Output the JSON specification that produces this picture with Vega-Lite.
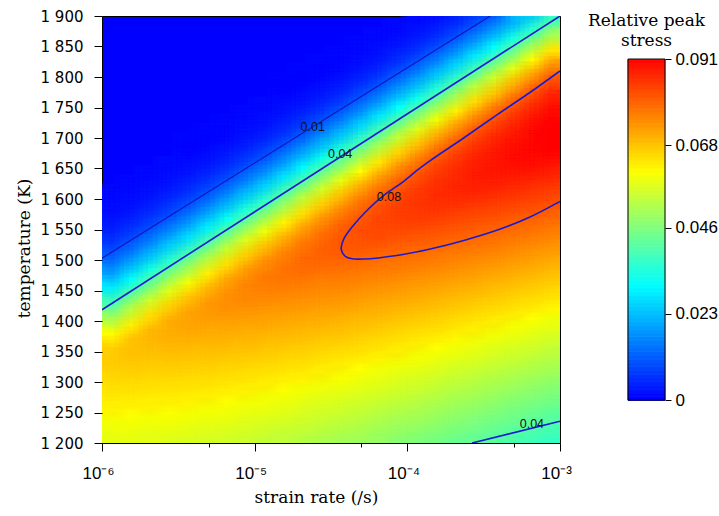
{
"$schema": "https://vega.github.io/schema/vega-lite/v6.json",
"background": "white",
"padding": {"left": 14, "top": 8, "right": 2, "bottom": 2},
"spacing": 15,
"config": {"view": {"stroke": "black", "strokeWidth": 1}, "axis": {"grid": false, "domain": false, "tickColor": "black", "labelColor": "black", "titleColor": "black", "tickWidth": 1}},
"datasets": {
"field": [
{"u":-6,"t":1317,"v":0.0663},{"u":-6,"t":1292,"v":0.0647},{"u":-6,"t":1267,"v":0.0631},{"u":-6,"t":1242,"v":0.0615},{"u":-6,"t":1217,"v":0.0598},{"u":-6,"t":1192,"v":0.0582},
{"u":-6,"t":1342,"v":0.0662},{"u":-6,"t":1367,"v":0.0604},{"u":-6,"t":1392,"v":0.0507},{"u":-6,"t":1417,"v":0.0394},{"u":-6,"t":1442,"v":0.0284},{"u":-6,"t":1467,"v":0.019},{"u":-6,"t":1492,"v":0.0118},{"u":-6,"t":1517,"v":0.0068},{"u":-6,"t":1542,"v":0.0037},{"u":-6,"t":1567,"v":0.0019},{"u":-6,"t":1592,"v":0.0009},
{"u":-5.875,"t":1332,"v":0.0675},{"u":-5.875,"t":1307,"v":0.0658},{"u":-5.875,"t":1282,"v":0.0641},{"u":-5.875,"t":1257,"v":0.0624},{"u":-5.875,"t":1232,"v":0.0607},{"u":-5.875,"t":1207,"v":0.059},{"u":-5.875,"t":1182,"v":0.0573},
{"u":-5.875,"t":1357,"v":0.0676},{"u":-5.875,"t":1382,"v":0.0623},{"u":-5.875,"t":1407,"v":0.0531},{"u":-5.875,"t":1432,"v":0.0419},{"u":-5.875,"t":1457,"v":0.0307},{"u":-5.875,"t":1482,"v":0.0208},{"u":-5.875,"t":1507,"v":0.0131},{"u":-5.875,"t":1532,"v":0.0077},{"u":-5.875,"t":1557,"v":0.0042},{"u":-5.875,"t":1582,"v":0.0021},{"u":-5.875,"t":1607,"v":0.001},
{"u":-5.75,"t":1347,"v":0.0685},{"u":-5.75,"t":1322,"v":0.0668},{"u":-5.75,"t":1297,"v":0.065},{"u":-5.75,"t":1272,"v":0.0632},{"u":-5.75,"t":1247,"v":0.0615},{"u":-5.75,"t":1222,"v":0.0597},{"u":-5.75,"t":1197,"v":0.058},
{"u":-5.75,"t":1372,"v":0.0688},{"u":-5.75,"t":1397,"v":0.0641},{"u":-5.75,"t":1422,"v":0.0554},{"u":-5.75,"t":1447,"v":0.0445},{"u":-5.75,"t":1472,"v":0.0331},{"u":-5.75,"t":1497,"v":0.0228},{"u":-5.75,"t":1522,"v":0.0146},{"u":-5.75,"t":1547,"v":0.0086},{"u":-5.75,"t":1572,"v":0.0047},{"u":-5.75,"t":1597,"v":0.0024},{"u":-5.75,"t":1622,"v":0.0011},
{"u":-5.625,"t":1362,"v":0.0697},{"u":-5.625,"t":1337,"v":0.0679},{"u":-5.625,"t":1312,"v":0.066},{"u":-5.625,"t":1287,"v":0.0642},{"u":-5.625,"t":1262,"v":0.0624},{"u":-5.625,"t":1237,"v":0.0605},{"u":-5.625,"t":1212,"v":0.0587},{"u":-5.625,"t":1187,"v":0.0569},
{"u":-5.625,"t":1387,"v":0.0701},{"u":-5.625,"t":1412,"v":0.0659},{"u":-5.625,"t":1437,"v":0.0577},{"u":-5.625,"t":1462,"v":0.047},{"u":-5.625,"t":1487,"v":0.0355},{"u":-5.625,"t":1512,"v":0.0248},{"u":-5.625,"t":1537,"v":0.0161},{"u":-5.625,"t":1562,"v":0.0096},{"u":-5.625,"t":1587,"v":0.0053},{"u":-5.625,"t":1612,"v":0.0027},{"u":-5.625,"t":1637,"v":0.0013},
{"u":-5.5,"t":1376,"v":0.0708},{"u":-5.5,"t":1351,"v":0.0689},{"u":-5.5,"t":1326,"v":0.067},{"u":-5.5,"t":1301,"v":0.0651},{"u":-5.5,"t":1276,"v":0.0632},{"u":-5.5,"t":1251,"v":0.0613},{"u":-5.5,"t":1226,"v":0.0594},{"u":-5.5,"t":1201,"v":0.0575},{"u":-5.5,"t":1176,"v":0.0556},
{"u":-5.5,"t":1401,"v":0.0713},{"u":-5.5,"t":1426,"v":0.0675},{"u":-5.5,"t":1451,"v":0.0599},{"u":-5.5,"t":1476,"v":0.0495},{"u":-5.5,"t":1501,"v":0.038},{"u":-5.5,"t":1526,"v":0.027},{"u":-5.5,"t":1551,"v":0.0177},{"u":-5.5,"t":1576,"v":0.0107},{"u":-5.5,"t":1601,"v":0.006},{"u":-5.5,"t":1626,"v":0.0031},{"u":-5.5,"t":1651,"v":0.0015},{"u":-5.5,"t":1676,"v":0.0006},
{"u":-5.375,"t":1391,"v":0.0718},{"u":-5.375,"t":1366,"v":0.0699},{"u":-5.375,"t":1341,"v":0.0679},{"u":-5.375,"t":1316,"v":0.0659},{"u":-5.375,"t":1291,"v":0.064},{"u":-5.375,"t":1266,"v":0.062},{"u":-5.375,"t":1241,"v":0.06},{"u":-5.375,"t":1216,"v":0.058},{"u":-5.375,"t":1191,"v":0.0561},
{"u":-5.375,"t":1416,"v":0.0725},{"u":-5.375,"t":1441,"v":0.0691},{"u":-5.375,"t":1466,"v":0.062},{"u":-5.375,"t":1491,"v":0.052},{"u":-5.375,"t":1516,"v":0.0405},{"u":-5.375,"t":1541,"v":0.0293},{"u":-5.375,"t":1566,"v":0.0195},{"u":-5.375,"t":1591,"v":0.012},{"u":-5.375,"t":1616,"v":0.0068},{"u":-5.375,"t":1641,"v":0.0035},{"u":-5.375,"t":1666,"v":0.0017},{"u":-5.375,"t":1691,"v":0.0007},
{"u":-5.25,"t":1406,"v":0.073},{"u":-5.25,"t":1381,"v":0.0709},{"u":-5.25,"t":1356,"v":0.0689},{"u":-5.25,"t":1331,"v":0.0669},{"u":-5.25,"t":1306,"v":0.0648},{"u":-5.25,"t":1281,"v":0.0628},{"u":-5.25,"t":1256,"v":0.0608},{"u":-5.25,"t":1231,"v":0.0588},{"u":-5.25,"t":1206,"v":0.0567},{"u":-5.25,"t":1181,"v":0.0547},
{"u":-5.25,"t":1431,"v":0.0737},{"u":-5.25,"t":1456,"v":0.0707},{"u":-5.25,"t":1481,"v":0.0641},{"u":-5.25,"t":1506,"v":0.0545},{"u":-5.25,"t":1531,"v":0.0431},{"u":-5.25,"t":1556,"v":0.0316},{"u":-5.25,"t":1581,"v":0.0214},{"u":-5.25,"t":1606,"v":0.0133},{"u":-5.25,"t":1631,"v":0.0076},{"u":-5.25,"t":1656,"v":0.004},{"u":-5.25,"t":1681,"v":0.0019},{"u":-5.25,"t":1706,"v":0.0008},
{"u":-5.125,"t":1421,"v":0.0741},{"u":-5.125,"t":1396,"v":0.072},{"u":-5.125,"t":1371,"v":0.0699},{"u":-5.125,"t":1346,"v":0.0678},{"u":-5.125,"t":1321,"v":0.0657},{"u":-5.125,"t":1296,"v":0.0636},{"u":-5.125,"t":1271,"v":0.0615},{"u":-5.125,"t":1246,"v":0.0594},{"u":-5.125,"t":1221,"v":0.0573},{"u":-5.125,"t":1196,"v":0.0552},
{"u":-5.125,"t":1446,"v":0.0749},{"u":-5.125,"t":1471,"v":0.0722},{"u":-5.125,"t":1496,"v":0.0661},{"u":-5.125,"t":1521,"v":0.0569},{"u":-5.125,"t":1546,"v":0.0457},{"u":-5.125,"t":1571,"v":0.034},{"u":-5.125,"t":1596,"v":0.0234},{"u":-5.125,"t":1621,"v":0.0147},{"u":-5.125,"t":1646,"v":0.0085},{"u":-5.125,"t":1671,"v":0.0045},{"u":-5.125,"t":1696,"v":0.0022},{"u":-5.125,"t":1721,"v":0.0009},
{"u":-5,"t":1435,"v":0.075},{"u":-5,"t":1410,"v":0.0729},{"u":-5,"t":1385,"v":0.0707},{"u":-5,"t":1360,"v":0.0686},{"u":-5,"t":1335,"v":0.0664},{"u":-5,"t":1310,"v":0.0643},{"u":-5,"t":1285,"v":0.0621},{"u":-5,"t":1260,"v":0.0599},{"u":-5,"t":1235,"v":0.0578},{"u":-5,"t":1210,"v":0.0556},{"u":-5,"t":1185,"v":0.0535},
{"u":-5,"t":1460,"v":0.0759},{"u":-5,"t":1485,"v":0.0736},{"u":-5,"t":1510,"v":0.068},{"u":-5,"t":1535,"v":0.0592},{"u":-5,"t":1560,"v":0.0482},{"u":-5,"t":1585,"v":0.0364},{"u":-5,"t":1610,"v":0.0254},{"u":-5,"t":1635,"v":0.0163},{"u":-5,"t":1660,"v":0.0096},{"u":-5,"t":1685,"v":0.0051},{"u":-5,"t":1710,"v":0.0025},{"u":-5,"t":1735,"v":0.0011},
{"u":-4.875,"t":1450,"v":0.0761},{"u":-4.875,"t":1425,"v":0.0739},{"u":-4.875,"t":1400,"v":0.0717},{"u":-4.875,"t":1375,"v":0.0694},{"u":-4.875,"t":1350,"v":0.0672},{"u":-4.875,"t":1325,"v":0.065},{"u":-4.875,"t":1300,"v":0.0628},{"u":-4.875,"t":1275,"v":0.0606},{"u":-4.875,"t":1250,"v":0.0584},{"u":-4.875,"t":1225,"v":0.0562},{"u":-4.875,"t":1200,"v":0.0539},
{"u":-4.875,"t":1475,"v":0.077},{"u":-4.875,"t":1500,"v":0.075},{"u":-4.875,"t":1525,"v":0.0699},{"u":-4.875,"t":1550,"v":0.0615},{"u":-4.875,"t":1575,"v":0.0508},{"u":-4.875,"t":1600,"v":0.039},{"u":-4.875,"t":1625,"v":0.0276},{"u":-4.875,"t":1650,"v":0.018},{"u":-4.875,"t":1675,"v":0.0107},{"u":-4.875,"t":1700,"v":0.0058},{"u":-4.875,"t":1725,"v":0.0028},{"u":-4.875,"t":1750,"v":0.0013},{"u":-4.875,"t":1775,"v":0.0005},
{"u":-4.75,"t":1465,"v":0.0772},{"u":-4.75,"t":1440,"v":0.0749},{"u":-4.75,"t":1415,"v":0.0726},{"u":-4.75,"t":1390,"v":0.0704},{"u":-4.75,"t":1365,"v":0.0681},{"u":-4.75,"t":1340,"v":0.0658},{"u":-4.75,"t":1315,"v":0.0635},{"u":-4.75,"t":1290,"v":0.0613},{"u":-4.75,"t":1265,"v":0.059},{"u":-4.75,"t":1240,"v":0.0567},{"u":-4.75,"t":1215,"v":0.0544},{"u":-4.75,"t":1190,"v":0.0522},
{"u":-4.75,"t":1490,"v":0.0782},{"u":-4.75,"t":1515,"v":0.0764},{"u":-4.75,"t":1540,"v":0.0717},{"u":-4.75,"t":1565,"v":0.0638},{"u":-4.75,"t":1590,"v":0.0533},{"u":-4.75,"t":1615,"v":0.0415},{"u":-4.75,"t":1640,"v":0.0299},{"u":-4.75,"t":1665,"v":0.0198},{"u":-4.75,"t":1690,"v":0.0119},{"u":-4.75,"t":1715,"v":0.0065},{"u":-4.75,"t":1740,"v":0.0032},{"u":-4.75,"t":1765,"v":0.0014},{"u":-4.75,"t":1790,"v":0.0006},
{"u":-4.625,"t":1480,"v":0.0781},{"u":-4.625,"t":1455,"v":0.0758},{"u":-4.625,"t":1430,"v":0.0735},{"u":-4.625,"t":1405,"v":0.0712},{"u":-4.625,"t":1380,"v":0.0688},{"u":-4.625,"t":1355,"v":0.0665},{"u":-4.625,"t":1330,"v":0.0642},{"u":-4.625,"t":1305,"v":0.0619},{"u":-4.625,"t":1280,"v":0.0595},{"u":-4.625,"t":1255,"v":0.0572},{"u":-4.625,"t":1230,"v":0.0549},{"u":-4.625,"t":1205,"v":0.0526},{"u":-4.625,"t":1180,"v":0.0502},
{"u":-4.625,"t":1505,"v":0.0792},{"u":-4.625,"t":1530,"v":0.0776},{"u":-4.625,"t":1555,"v":0.0733},{"u":-4.625,"t":1580,"v":0.0659},{"u":-4.625,"t":1605,"v":0.0558},{"u":-4.625,"t":1630,"v":0.0441},{"u":-4.625,"t":1655,"v":0.0322},{"u":-4.625,"t":1680,"v":0.0217},{"u":-4.625,"t":1705,"v":0.0133},{"u":-4.625,"t":1730,"v":0.0074},{"u":-4.625,"t":1755,"v":0.0037},{"u":-4.625,"t":1780,"v":0.0017},{"u":-4.625,"t":1805,"v":0.0007},
{"u":-4.5,"t":1494,"v":0.0792},{"u":-4.5,"t":1469,"v":0.0768},{"u":-4.5,"t":1444,"v":0.0745},{"u":-4.5,"t":1419,"v":0.0721},{"u":-4.5,"t":1394,"v":0.0697},{"u":-4.5,"t":1369,"v":0.0673},{"u":-4.5,"t":1344,"v":0.0649},{"u":-4.5,"t":1319,"v":0.0626},{"u":-4.5,"t":1294,"v":0.0602},{"u":-4.5,"t":1269,"v":0.0578},{"u":-4.5,"t":1244,"v":0.0554},{"u":-4.5,"t":1219,"v":0.053},{"u":-4.5,"t":1194,"v":0.0507},
{"u":-4.5,"t":1519,"v":0.0803},{"u":-4.5,"t":1544,"v":0.079},{"u":-4.5,"t":1569,"v":0.075},{"u":-4.5,"t":1594,"v":0.0681},{"u":-4.5,"t":1619,"v":0.0583},{"u":-4.5,"t":1644,"v":0.0467},{"u":-4.5,"t":1669,"v":0.0347},{"u":-4.5,"t":1694,"v":0.0237},{"u":-4.5,"t":1719,"v":0.0147},{"u":-4.5,"t":1744,"v":0.0083},{"u":-4.5,"t":1769,"v":0.0042},{"u":-4.5,"t":1794,"v":0.0019},{"u":-4.5,"t":1819,"v":0.0008},
{"u":-4.375,"t":1509,"v":0.0802},{"u":-4.375,"t":1484,"v":0.0778},{"u":-4.375,"t":1459,"v":0.0753},{"u":-4.375,"t":1434,"v":0.0729},{"u":-4.375,"t":1409,"v":0.0705},{"u":-4.375,"t":1384,"v":0.068},{"u":-4.375,"t":1359,"v":0.0656},{"u":-4.375,"t":1334,"v":0.0632},{"u":-4.375,"t":1309,"v":0.0607},{"u":-4.375,"t":1284,"v":0.0583},{"u":-4.375,"t":1259,"v":0.0559},{"u":-4.375,"t":1234,"v":0.0535},{"u":-4.375,"t":1209,"v":0.051},{"u":-4.375,"t":1184,"v":0.0486},
{"u":-4.375,"t":1534,"v":0.0813},{"u":-4.375,"t":1559,"v":0.0801},{"u":-4.375,"t":1584,"v":0.0766},{"u":-4.375,"t":1609,"v":0.0701},{"u":-4.375,"t":1634,"v":0.0607},{"u":-4.375,"t":1659,"v":0.0493},{"u":-4.375,"t":1684,"v":0.0372},{"u":-4.375,"t":1709,"v":0.0258},{"u":-4.375,"t":1734,"v":0.0164},{"u":-4.375,"t":1759,"v":0.0094},{"u":-4.375,"t":1784,"v":0.0048},{"u":-4.375,"t":1809,"v":0.0022},{"u":-4.375,"t":1834,"v":0.0009},
{"u":-4.25,"t":1524,"v":0.0812},{"u":-4.25,"t":1499,"v":0.0787},{"u":-4.25,"t":1474,"v":0.0762},{"u":-4.25,"t":1449,"v":0.0737},{"u":-4.25,"t":1424,"v":0.0712},{"u":-4.25,"t":1399,"v":0.0688},{"u":-4.25,"t":1374,"v":0.0663},{"u":-4.25,"t":1349,"v":0.0638},{"u":-4.25,"t":1324,"v":0.0613},{"u":-4.25,"t":1299,"v":0.0588},{"u":-4.25,"t":1274,"v":0.0564},{"u":-4.25,"t":1249,"v":0.0539},{"u":-4.25,"t":1224,"v":0.0514},{"u":-4.25,"t":1199,"v":0.0489},
{"u":-4.25,"t":1549,"v":0.0823},{"u":-4.25,"t":1574,"v":0.0813},{"u":-4.25,"t":1599,"v":0.0781},{"u":-4.25,"t":1624,"v":0.072},{"u":-4.25,"t":1649,"v":0.0631},{"u":-4.25,"t":1674,"v":0.0519},{"u":-4.25,"t":1699,"v":0.0397},{"u":-4.25,"t":1724,"v":0.028},{"u":-4.25,"t":1749,"v":0.018},{"u":-4.25,"t":1774,"v":0.0105},{"u":-4.25,"t":1799,"v":0.0055},{"u":-4.25,"t":1824,"v":0.0026},{"u":-4.25,"t":1849,"v":0.0011},
{"u":-4.125,"t":1539,"v":0.0821},{"u":-4.125,"t":1514,"v":0.0796},{"u":-4.125,"t":1489,"v":0.0771},{"u":-4.125,"t":1464,"v":0.0746},{"u":-4.125,"t":1439,"v":0.072},{"u":-4.125,"t":1414,"v":0.0695},{"u":-4.125,"t":1389,"v":0.067},{"u":-4.125,"t":1364,"v":0.0644},{"u":-4.125,"t":1339,"v":0.0619},{"u":-4.125,"t":1314,"v":0.0594},{"u":-4.125,"t":1289,"v":0.0569},{"u":-4.125,"t":1264,"v":0.0543},{"u":-4.125,"t":1239,"v":0.0518},{"u":-4.125,"t":1214,"v":0.0493},{"u":-4.125,"t":1189,"v":0.0468},
{"u":-4.125,"t":1564,"v":0.0834},{"u":-4.125,"t":1589,"v":0.0825},{"u":-4.125,"t":1614,"v":0.0796},{"u":-4.125,"t":1639,"v":0.0739},{"u":-4.125,"t":1664,"v":0.0654},{"u":-4.125,"t":1689,"v":0.0544},{"u":-4.125,"t":1714,"v":0.0422},{"u":-4.125,"t":1739,"v":0.0303},{"u":-4.125,"t":1764,"v":0.0198},{"u":-4.125,"t":1789,"v":0.0118},{"u":-4.125,"t":1814,"v":0.0063},{"u":-4.125,"t":1839,"v":0.003},{"u":-4.125,"t":1864,"v":0.0012},
{"u":-4,"t":1553,"v":0.0831},{"u":-4,"t":1528,"v":0.0805},{"u":-4,"t":1503,"v":0.078},{"u":-4,"t":1478,"v":0.0754},{"u":-4,"t":1453,"v":0.0728},{"u":-4,"t":1428,"v":0.0703},{"u":-4,"t":1403,"v":0.0677},{"u":-4,"t":1378,"v":0.0651},{"u":-4,"t":1353,"v":0.0625},{"u":-4,"t":1328,"v":0.06},{"u":-4,"t":1303,"v":0.0574},{"u":-4,"t":1278,"v":0.0548},{"u":-4,"t":1253,"v":0.0522},{"u":-4,"t":1228,"v":0.0497},{"u":-4,"t":1203,"v":0.0471},{"u":-4,"t":1178,"v":0.0445},
{"u":-4,"t":1578,"v":0.0844},{"u":-4,"t":1603,"v":0.0836},{"u":-4,"t":1628,"v":0.081},{"u":-4,"t":1653,"v":0.0757},{"u":-4,"t":1678,"v":0.0676},{"u":-4,"t":1703,"v":0.057},{"u":-4,"t":1728,"v":0.0449},{"u":-4,"t":1753,"v":0.0326},{"u":-4,"t":1778,"v":0.0217},{"u":-4,"t":1803,"v":0.0131},{"u":-4,"t":1828,"v":0.0071},{"u":-4,"t":1853,"v":0.0034},{"u":-4,"t":1878,"v":0.0014},
{"u":-3.875,"t":1568,"v":0.0841},{"u":-3.875,"t":1543,"v":0.0815},{"u":-3.875,"t":1518,"v":0.0789},{"u":-3.875,"t":1493,"v":0.0763},{"u":-3.875,"t":1468,"v":0.0736},{"u":-3.875,"t":1443,"v":0.071},{"u":-3.875,"t":1418,"v":0.0684},{"u":-3.875,"t":1393,"v":0.0658},{"u":-3.875,"t":1368,"v":0.0632},{"u":-3.875,"t":1343,"v":0.0606},{"u":-3.875,"t":1318,"v":0.0579},{"u":-3.875,"t":1293,"v":0.0553},{"u":-3.875,"t":1268,"v":0.0527},{"u":-3.875,"t":1243,"v":0.0501},{"u":-3.875,"t":1218,"v":0.0475},{"u":-3.875,"t":1193,"v":0.0449},
{"u":-3.875,"t":1593,"v":0.0854},{"u":-3.875,"t":1618,"v":0.0847},{"u":-3.875,"t":1643,"v":0.0824},{"u":-3.875,"t":1668,"v":0.0775},{"u":-3.875,"t":1693,"v":0.0699},{"u":-3.875,"t":1718,"v":0.0596},{"u":-3.875,"t":1743,"v":0.0475},{"u":-3.875,"t":1768,"v":0.0352},{"u":-3.875,"t":1793,"v":0.0238},{"u":-3.875,"t":1818,"v":0.0146},{"u":-3.875,"t":1843,"v":0.0081},{"u":-3.875,"t":1868,"v":0.004},{"u":-3.875,"t":1893,"v":0.0017},
{"u":-3.75,"t":1583,"v":0.085},{"u":-3.75,"t":1558,"v":0.0823},{"u":-3.75,"t":1533,"v":0.0797},{"u":-3.75,"t":1508,"v":0.077},{"u":-3.75,"t":1483,"v":0.0743},{"u":-3.75,"t":1458,"v":0.0717},{"u":-3.75,"t":1433,"v":0.069},{"u":-3.75,"t":1408,"v":0.0664},{"u":-3.75,"t":1383,"v":0.0637},{"u":-3.75,"t":1358,"v":0.0611},{"u":-3.75,"t":1333,"v":0.0584},{"u":-3.75,"t":1308,"v":0.0557},{"u":-3.75,"t":1283,"v":0.0531},{"u":-3.75,"t":1258,"v":0.0504},{"u":-3.75,"t":1233,"v":0.0478},{"u":-3.75,"t":1208,"v":0.0451},{"u":-3.75,"t":1183,"v":0.0425},
{"u":-3.75,"t":1608,"v":0.0863},{"u":-3.75,"t":1633,"v":0.0857},{"u":-3.75,"t":1658,"v":0.0836},{"u":-3.75,"t":1683,"v":0.0791},{"u":-3.75,"t":1708,"v":0.0719},{"u":-3.75,"t":1733,"v":0.0619},{"u":-3.75,"t":1758,"v":0.0501},{"u":-3.75,"t":1783,"v":0.0376},{"u":-3.75,"t":1808,"v":0.0258},{"u":-3.75,"t":1833,"v":0.0162},{"u":-3.75,"t":1858,"v":0.0091},{"u":-3.75,"t":1883,"v":0.0045},
{"u":-3.625,"t":1598,"v":0.086},{"u":-3.625,"t":1573,"v":0.0832},{"u":-3.625,"t":1548,"v":0.0806},{"u":-3.625,"t":1523,"v":0.0779},{"u":-3.625,"t":1498,"v":0.0752},{"u":-3.625,"t":1473,"v":0.0725},{"u":-3.625,"t":1448,"v":0.0698},{"u":-3.625,"t":1423,"v":0.0671},{"u":-3.625,"t":1398,"v":0.0644},{"u":-3.625,"t":1373,"v":0.0617},{"u":-3.625,"t":1348,"v":0.059},{"u":-3.625,"t":1323,"v":0.0563},{"u":-3.625,"t":1298,"v":0.0536},{"u":-3.625,"t":1273,"v":0.0509},{"u":-3.625,"t":1248,"v":0.0482},{"u":-3.625,"t":1223,"v":0.0455},{"u":-3.625,"t":1198,"v":0.0428},
{"u":-3.625,"t":1623,"v":0.0873},{"u":-3.625,"t":1648,"v":0.0868},{"u":-3.625,"t":1673,"v":0.0849},{"u":-3.625,"t":1698,"v":0.0808},{"u":-3.625,"t":1723,"v":0.074},{"u":-3.625,"t":1748,"v":0.0644},{"u":-3.625,"t":1773,"v":0.0528},{"u":-3.625,"t":1798,"v":0.0402},{"u":-3.625,"t":1823,"v":0.0281},{"u":-3.625,"t":1848,"v":0.0179},{"u":-3.625,"t":1873,"v":0.0102},{"u":-3.625,"t":1898,"v":0.0052},
{"u":-3.5,"t":1612,"v":0.0868},{"u":-3.5,"t":1587,"v":0.0841},{"u":-3.5,"t":1562,"v":0.0814},{"u":-3.5,"t":1537,"v":0.0786},{"u":-3.5,"t":1512,"v":0.0759},{"u":-3.5,"t":1487,"v":0.0732},{"u":-3.5,"t":1462,"v":0.0704},{"u":-3.5,"t":1437,"v":0.0677},{"u":-3.5,"t":1412,"v":0.065},{"u":-3.5,"t":1387,"v":0.0622},{"u":-3.5,"t":1362,"v":0.0595},{"u":-3.5,"t":1337,"v":0.0568},{"u":-3.5,"t":1312,"v":0.054},{"u":-3.5,"t":1287,"v":0.0513},{"u":-3.5,"t":1262,"v":0.0485},{"u":-3.5,"t":1237,"v":0.0458},{"u":-3.5,"t":1212,"v":0.0431},{"u":-3.5,"t":1187,"v":0.0403},
{"u":-3.5,"t":1637,"v":0.0882},{"u":-3.5,"t":1662,"v":0.0878},{"u":-3.5,"t":1687,"v":0.0861},{"u":-3.5,"t":1712,"v":0.0823},{"u":-3.5,"t":1737,"v":0.0759},{"u":-3.5,"t":1762,"v":0.0668},{"u":-3.5,"t":1787,"v":0.0554},{"u":-3.5,"t":1812,"v":0.0428},{"u":-3.5,"t":1837,"v":0.0304},{"u":-3.5,"t":1862,"v":0.0197},{"u":-3.5,"t":1887,"v":0.0115},
{"u":-3.375,"t":1627,"v":0.0877},{"u":-3.375,"t":1602,"v":0.085},{"u":-3.375,"t":1577,"v":0.0822},{"u":-3.375,"t":1552,"v":0.0794},{"u":-3.375,"t":1527,"v":0.0767},{"u":-3.375,"t":1502,"v":0.0739},{"u":-3.375,"t":1477,"v":0.0711},{"u":-3.375,"t":1452,"v":0.0683},{"u":-3.375,"t":1427,"v":0.0656},{"u":-3.375,"t":1402,"v":0.0628},{"u":-3.375,"t":1377,"v":0.06},{"u":-3.375,"t":1352,"v":0.0573},{"u":-3.375,"t":1327,"v":0.0545},{"u":-3.375,"t":1302,"v":0.0517},{"u":-3.375,"t":1277,"v":0.049},{"u":-3.375,"t":1252,"v":0.0462},{"u":-3.375,"t":1227,"v":0.0434},{"u":-3.375,"t":1202,"v":0.0407},{"u":-3.375,"t":1177,"v":0.0379},
{"u":-3.375,"t":1652,"v":0.0891},{"u":-3.375,"t":1677,"v":0.0887},{"u":-3.375,"t":1702,"v":0.0872},{"u":-3.375,"t":1727,"v":0.0838},{"u":-3.375,"t":1752,"v":0.0778},{"u":-3.375,"t":1777,"v":0.0691},{"u":-3.375,"t":1802,"v":0.0579},{"u":-3.375,"t":1827,"v":0.0454},{"u":-3.375,"t":1852,"v":0.0328},{"u":-3.375,"t":1877,"v":0.0216},
{"u":-3.25,"t":1642,"v":0.0887},{"u":-3.25,"t":1617,"v":0.0859},{"u":-3.25,"t":1592,"v":0.0831},{"u":-3.25,"t":1567,"v":0.0803},{"u":-3.25,"t":1542,"v":0.0775},{"u":-3.25,"t":1517,"v":0.0747},{"u":-3.25,"t":1492,"v":0.0719},{"u":-3.25,"t":1467,"v":0.0691},{"u":-3.25,"t":1442,"v":0.0663},{"u":-3.25,"t":1417,"v":0.0635},{"u":-3.25,"t":1392,"v":0.0607},{"u":-3.25,"t":1367,"v":0.0579},{"u":-3.25,"t":1342,"v":0.0551},{"u":-3.25,"t":1317,"v":0.0523},{"u":-3.25,"t":1292,"v":0.0495},{"u":-3.25,"t":1267,"v":0.0467},{"u":-3.25,"t":1242,"v":0.0439},{"u":-3.25,"t":1217,"v":0.0411},{"u":-3.25,"t":1192,"v":0.0383},
{"u":-3.25,"t":1667,"v":0.0901},{"u":-3.25,"t":1692,"v":0.0898},{"u":-3.25,"t":1717,"v":0.0884},{"u":-3.25,"t":1742,"v":0.0853},{"u":-3.25,"t":1767,"v":0.0797},{"u":-3.25,"t":1792,"v":0.0714},{"u":-3.25,"t":1817,"v":0.0605},{"u":-3.25,"t":1842,"v":0.0481},{"u":-3.25,"t":1867,"v":0.0353},{"u":-3.25,"t":1892,"v":0.0236},
{"u":-3.125,"t":1657,"v":0.0896},{"u":-3.125,"t":1632,"v":0.0868},{"u":-3.125,"t":1607,"v":0.0839},{"u":-3.125,"t":1582,"v":0.0811},{"u":-3.125,"t":1557,"v":0.0782},{"u":-3.125,"t":1532,"v":0.0754},{"u":-3.125,"t":1507,"v":0.0726},{"u":-3.125,"t":1482,"v":0.0697},{"u":-3.125,"t":1457,"v":0.0669},{"u":-3.125,"t":1432,"v":0.0641},{"u":-3.125,"t":1407,"v":0.0612},{"u":-3.125,"t":1382,"v":0.0584},{"u":-3.125,"t":1357,"v":0.0556},{"u":-3.125,"t":1332,"v":0.0527},{"u":-3.125,"t":1307,"v":0.0499},{"u":-3.125,"t":1282,"v":0.0471},{"u":-3.125,"t":1257,"v":0.0442},{"u":-3.125,"t":1232,"v":0.0414},{"u":-3.125,"t":1207,"v":0.0386},{"u":-3.125,"t":1182,"v":0.0357},
{"u":-3.125,"t":1682,"v":0.091},{"u":-3.125,"t":1707,"v":0.0907},{"u":-3.125,"t":1732,"v":0.0895},{"u":-3.125,"t":1757,"v":0.0867},{"u":-3.125,"t":1782,"v":0.0815},{"u":-3.125,"t":1807,"v":0.0736},{"u":-3.125,"t":1832,"v":0.0631},{"u":-3.125,"t":1857,"v":0.0508},{"u":-3.125,"t":1882,"v":0.0378}
],
"lines": [
{"c":"a","o":0,"u":-6,"t":1503},{"c":"a","o":1,"u":-3.457,"t":1900},
{"c":"b","o":0,"u":-6,"t":1418.5},{"c":"b","o":1,"u":-3,"t":1900},
{"c":"c","o":0,"u":-3.576,"t":1200},{"c":"c","o":1,"u":-3,"t":1235.6},
{"c":"d","o":0,"u":-3,"t":1810},{"c":"d","o":1,"u":-3.195,"t":1775},{"c":"d","o":2,"u":-3.413,"t":1738},{"c":"d","o":3,"u":-3.631,"t":1700},{"c":"d","o":4,"u":-3.85,"t":1663},{"c":"d","o":5,"u":-3.926,"t":1649},{"c":"d","o":6,"u":-4.035,"t":1627},{"c":"d","o":7,"u":-4.144,"t":1608},{"c":"d","o":8,"u":-4.253,"t":1584},{"c":"d","o":9,"u":-4.362,"t":1554},{"c":"d","o":10,"u":-4.417,"t":1534},{"c":"d","o":11,"u":-4.433,"t":1518},{"c":"d","o":12,"u":-4.406,"t":1506},{"c":"d","o":13,"u":-4.362,"t":1502},{"c":"d","o":14,"u":-4.286,"t":1501.6},{"c":"d","o":15,"u":-4.07,"t":1507.5},{"c":"d","o":16,"u":-3.85,"t":1518},{"c":"d","o":17,"u":-3.63,"t":1532},{"c":"d","o":18,"u":-3.41,"t":1549},{"c":"d","o":19,"u":-3.2,"t":1570},{"c":"d","o":20,"u":-3,"t":1596}
],
"labels": [
{"u":-4.62,"t":1718,"s":"0.01"},{"u":-4.44,"t":1673,"s":"0.04"},{"u":-4.12,"t":1604,"s":"0.08"},{"u":-3.184,"t":1231,"s":"0.04"}
],
"bar": [
{"c":0},{"c":0.001},{"c":0.002},{"c":0.003},{"c":0.004},{"c":0.005},{"c":0.006},{"c":0.007},{"c":0.008},{"c":0.009},
{"c":0.01},{"c":0.011},{"c":0.012},{"c":0.013},{"c":0.014},{"c":0.015},{"c":0.016},{"c":0.017},{"c":0.018},{"c":0.019},
{"c":0.02},{"c":0.021},{"c":0.022},{"c":0.023},{"c":0.024},{"c":0.025},{"c":0.026},{"c":0.027},{"c":0.028},{"c":0.029},
{"c":0.03},{"c":0.031},{"c":0.032},{"c":0.033},{"c":0.034},{"c":0.035},{"c":0.036},{"c":0.037},{"c":0.038},{"c":0.039},
{"c":0.04},{"c":0.041},{"c":0.042},{"c":0.043},{"c":0.044},{"c":0.045},{"c":0.046},{"c":0.047},{"c":0.048},{"c":0.049},
{"c":0.05},{"c":0.051},{"c":0.052},{"c":0.053},{"c":0.054},{"c":0.055},{"c":0.056},{"c":0.057},{"c":0.058},{"c":0.059},
{"c":0.06},{"c":0.061},{"c":0.062},{"c":0.063},{"c":0.064},{"c":0.065},{"c":0.066},{"c":0.067},{"c":0.068},{"c":0.069},
{"c":0.07},{"c":0.071},{"c":0.072},{"c":0.073},{"c":0.074},{"c":0.075},{"c":0.076},{"c":0.077},{"c":0.078},{"c":0.079},
{"c":0.08},{"c":0.081},{"c":0.082},{"c":0.083},{"c":0.084},{"c":0.085},{"c":0.086},{"c":0.087},{"c":0.088},{"c":0.089},
{"c":0.09}
],
"frame": [{"a":0,"b":0.091}]
},
"hconcat": [
{
"width": 458, "height": 427,
"view": {"fill": "#0000ff", "stroke": "black"},
"layer": [
{"data": {"name": "field"},
 "encoding": {
  "x": {"field": "u", "type": "quantitative", "bin": {"binned": true, "step": 0.125}, "title": "strain rate (/s)",
        "scale": {"domain": [-6, -3], "nice": false, "zero": false},
        "axis": {"values": [-6, -5.30103, -5, -4.30103, -4, -3.30103, -3],
                 "labelExpr": "datum.value == -6 ? '10⁻⁶' : datum.value == -5 ? '10⁻⁵' : datum.value == -4 ? '10⁻⁴' : datum.value == -3 ? '10⁻³' : ''",
                 "tickSize": {"condition": {"test": "datum.value % 1 == 0", "value": 8}, "value": 4},
                 "labelFlush": false, "labelOverlap": false, "labelFont": "Liberation Sans", "labelFontSize": 17,
                 "labelPadding": 14, "labelOffset": -4,
                 "titleFont": "DejaVu Serif", "titleFontSize": 17, "titleFontWeight": "normal",
                 "titlePadding": 8, "titleX": 214}},
  "y": {"field": "t", "type": "quantitative", "bin": {"binned": true, "step": 25}, "title": "temperature (K)",
        "scale": {"domain": [1200, 1900], "nice": false, "zero": false},
        "axis": {"values": [1200, 1250, 1300, 1350, 1400, 1450, 1500, 1550, 1600, 1650, 1700, 1750, 1800, 1850, 1900],
                 "labelExpr": "replace(format(datum.value, ','), ',', ' ')",
                 "tickSize": 8, "labelFont": "DejaVu Sans", "labelFontSize": 15, "labelPadding": 11, "labelOverlap": false,
                 "titleFont": "DejaVu Serif", "titleFontSize": 17, "titleFontWeight": "normal",
                 "titleX": -69, "titleY": 232}},
  "color": {"field": "v", "type": "quantitative", "legend": null,
            "scale": {"type": "linear", "domain": [0, 0.0303, 0.0607, 0.091], "range": ["#0000ff", "#00ffff", "#ffff00", "#ff0000"], "interpolate": "rgb", "clamp": true}}
 },
 "layer": [
  {"mark": {"type": "rect", "clip": true, "strokeWidth": 1},
   "encoding": {"stroke": {"field": "v", "type": "quantitative", "legend": null,
            "scale": {"type": "linear", "domain": [0, 0.0303, 0.0607, 0.091], "range": ["#0000ff", "#00ffff", "#ffff00", "#ff0000"], "interpolate": "rgb", "clamp": true}}}},
  {"mark": {"type": "rect", "clip": true, "opacity": 0.5, "xOffset": -7.16, "x2Offset": -7.16, "yOffset": -5.72, "y2Offset": -5.72}},
  {"mark": {"type": "rect", "clip": true, "opacity": 0.3333, "xOffset": -2.39, "x2Offset": -2.39, "yOffset": -5.72, "y2Offset": -5.72}},
  {"mark": {"type": "rect", "clip": true, "opacity": 0.25, "xOffset": 2.39, "x2Offset": 2.39, "yOffset": -5.72, "y2Offset": -5.72}},
  {"mark": {"type": "rect", "clip": true, "opacity": 0.2, "xOffset": 7.16, "x2Offset": 7.16, "yOffset": -5.72, "y2Offset": -5.72}},
  {"mark": {"type": "rect", "clip": true, "opacity": 0.1667, "xOffset": -7.16, "x2Offset": -7.16, "yOffset": -1.91, "y2Offset": -1.91}},
  {"mark": {"type": "rect", "clip": true, "opacity": 0.1429, "xOffset": -2.39, "x2Offset": -2.39, "yOffset": -1.91, "y2Offset": -1.91}},
  {"mark": {"type": "rect", "clip": true, "opacity": 0.125, "xOffset": 2.39, "x2Offset": 2.39, "yOffset": -1.91, "y2Offset": -1.91}},
  {"mark": {"type": "rect", "clip": true, "opacity": 0.1111, "xOffset": 7.16, "x2Offset": 7.16, "yOffset": -1.91, "y2Offset": -1.91}},
  {"mark": {"type": "rect", "clip": true, "opacity": 0.1, "xOffset": -7.16, "x2Offset": -7.16, "yOffset": 1.91, "y2Offset": 1.91}},
  {"mark": {"type": "rect", "clip": true, "opacity": 0.0909, "xOffset": -2.39, "x2Offset": -2.39, "yOffset": 1.91, "y2Offset": 1.91}},
  {"mark": {"type": "rect", "clip": true, "opacity": 0.0833, "xOffset": 2.39, "x2Offset": 2.39, "yOffset": 1.91, "y2Offset": 1.91}},
  {"mark": {"type": "rect", "clip": true, "opacity": 0.0769, "xOffset": 7.16, "x2Offset": 7.16, "yOffset": 1.91, "y2Offset": 1.91}},
  {"mark": {"type": "rect", "clip": true, "opacity": 0.0714, "xOffset": -7.16, "x2Offset": -7.16, "yOffset": 5.72, "y2Offset": 5.72}},
  {"mark": {"type": "rect", "clip": true, "opacity": 0.0667, "xOffset": -2.39, "x2Offset": -2.39, "yOffset": 5.72, "y2Offset": 5.72}},
  {"mark": {"type": "rect", "clip": true, "opacity": 0.0625, "xOffset": 2.39, "x2Offset": 2.39, "yOffset": 5.72, "y2Offset": 5.72}},
  {"mark": {"type": "rect", "clip": true, "opacity": 0.0588, "xOffset": 7.16, "x2Offset": 7.16, "yOffset": 5.72, "y2Offset": 5.72}}
 ]},
{"data": {"name": "lines"},
 "transform": [{"filter": "datum.c == 'a'"}],
 "mark": {"type": "line", "clip": true, "color": "#1414b8", "strokeWidth": 1.2},
 "encoding": {
  "x": {"field": "u", "type": "quantitative", "title": "strain rate (/s)"},
  "y": {"field": "t", "type": "quantitative", "title": "temperature (K)"},
  "detail": {"field": "c"},
  "order": {"field": "o", "type": "quantitative"}
 }},
{"data": {"name": "lines"},
 "transform": [{"filter": "datum.c != 'a'"}],
 "mark": {"type": "line", "clip": true, "color": "#1a1ad2", "strokeWidth": 1.6, "interpolate": "catmull-rom"},
 "encoding": {
  "x": {"field": "u", "type": "quantitative", "title": "strain rate (/s)"},
  "y": {"field": "t", "type": "quantitative", "title": "temperature (K)"},
  "detail": {"field": "c"},
  "order": {"field": "o", "type": "quantitative"}
 }},
{"data": {"name": "labels"},
 "mark": {"type": "text", "font": "Liberation Sans", "fontSize": 12.5, "color": "#111111"},
 "encoding": {
  "x": {"field": "u", "type": "quantitative", "title": "strain rate (/s)"},
  "y": {"field": "t", "type": "quantitative", "title": "temperature (K)"},
  "text": {"field": "s"}
 }}
]
},
{
"width": 37, "height": 384,
"view": {"stroke": null},
"title": {"text": ["Relative peak", "stress"], "frame": "group", "anchor": "middle", "font": "DejaVu Serif", "fontSize": 17, "fontWeight": "normal", "lineHeight": 20, "offset": -34, "color": "black"},
"layer": [
{"data": {"name": "bar"},
 "mark": {"type": "rect", "strokeWidth": 0.8},
 "encoding": {
  "y": {"field": "c", "type": "quantitative", "bin": {"binned": true, "step": 0.001}, "title": null,
        "scale": {"domain": [0, 0.10248], "nice": false, "zero": false},
        "axis": {"orient": "right", "values": [0, 0.023, 0.046, 0.068, 0.091], "format": "~g", "tickSize": 6,
                 "labelFont": "Liberation Sans", "labelFontSize": 17, "labelPadding": 4, "labelOverlap": false, "title": null}},
  "color": {"field": "c", "type": "quantitative", "legend": null,
            "scale": {"type": "linear", "domain": [0, 0.0303, 0.0607, 0.091], "range": ["#0000ff", "#00ffff", "#ffff00", "#ff0000"], "interpolate": "rgb", "clamp": true}},
  "stroke": {"field": "c", "type": "quantitative", "legend": null,
            "scale": {"type": "linear", "domain": [0, 0.0303, 0.0607, 0.091], "range": ["#0000ff", "#00ffff", "#ffff00", "#ff0000"], "interpolate": "rgb", "clamp": true}}
 }},
{"data": {"name": "frame"},
 "mark": {"type": "rect", "filled": false, "color": "black", "strokeWidth": 1},
 "encoding": {
  "y": {"field": "a", "type": "quantitative", "title": null},
  "y2": {"field": "b"}
 }}
]
}
]
}
